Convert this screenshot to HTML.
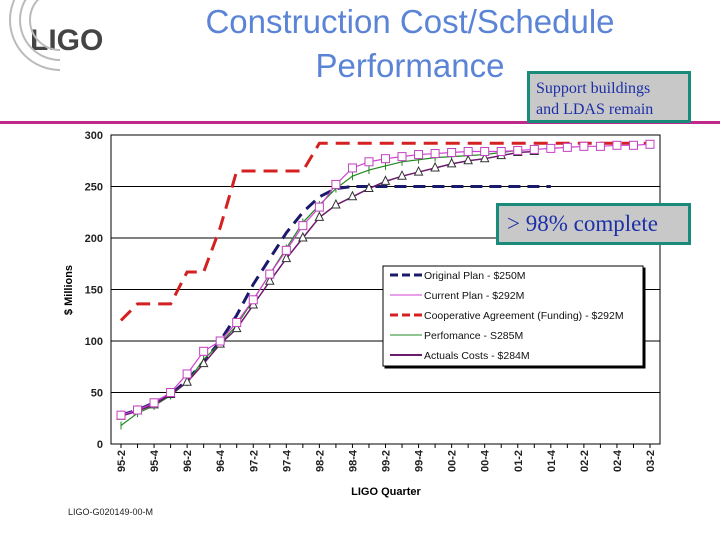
<!DOCTYPE html>
<html><head><meta charset="utf-8"><style>
body{margin:0;width:720px;height:540px;background:#fff;position:relative;overflow:hidden;font-family:"Liberation Sans",sans-serif}
.title{position:absolute;left:150px;width:520px;text-align:center;color:#5b84d6;font-size:33px;line-height:44px;top:0}
.box{position:absolute;background:#c8c8c8;border:3px solid #1a8a7a;font-family:"Liberation Serif",serif;color:#1c2fa8}
</style></head><body>
<div style="position:absolute;left:30px;top:24px;font-weight:bold;font-size:30px;color:#444">LIGO</div>
<svg style="position:absolute;left:0;top:0" width="60" height="90"><g fill="none" stroke="#bbb" stroke-width="2"><circle cx="60" cy="20" r="30"/><circle cx="60" cy="20" r="40"/><circle cx="60" cy="20" r="50"/></g></svg>
<div class="title">Construction Cost/Schedule<br>Performance</div>
<div style="position:absolute;left:0;top:121px;width:720px;height:3px;background:#c0288a"></div>
<div class="box" style="left:527px;top:71px;width:164px;height:52px;font-size:16px;line-height:21px;padding:4px 0 0 6px;box-sizing:border-box">Support buildings<br>and LDAS remain</div>
<svg id="c" width="720" height="540" style="position:absolute;left:0;top:0"></svg>
<div class="box" style="left:496px;top:203px;width:195px;height:42px;font-size:23px;line-height:36px;padding-left:8px;box-sizing:border-box">&gt; 98% complete</div>
<div style="position:absolute;left:68px;top:507px;font-size:9px;color:#222">LIGO-G020149-00-M</div>
<script>
const quarters=["95-2","95-3","95-4","96-1","96-2","96-3","96-4","97-1","97-2","97-3","97-4","98-1","98-2","98-3","98-4","99-1","99-2","99-3","99-4","00-1","00-2","00-3","00-4","01-1","01-2","01-3","01-4","02-1","02-2","02-3","02-4","03-1","03-2"];
const yTicks=[0,50,100,150,200,250,300];
const original=[28,33,40,48,62,80,100,125,155,180,205,225,240,248,250,250,250,250,250,250,250,250,250,250,250,250,250];
const funding=[120,136,136,136,167,167,210,265,265,265,265,265,292,292,292,292,292,292,292,292,292,292,292,292,292,292,292,292,292,292,292,292,292];
const currentPlan=[28,33,40,50,68,90,100,118,140,165,188,212,230,252,268,274,277,279,281,282,283,284,284,284,285,286,287,288,289,289,290,290,291];
const performance=[18,30,37,47,60,82,98,115,140,165,190,215,232,248,260,266,270,274,276,278,279,280,281,283,285];
const actuals=[27,32,38,48,60,78,97,112,135,158,180,200,220,232,240,248,255,260,264,268,272,275,277,280,283,284];
const NS="http://www.w3.org/2000/svg",svg=document.getElementById('c');
const x0=111,x1=660,yTop=135,yBot=444;
const X=i=>121+i*(650-121)/32, Y=v=>yBot-(v/300)*(yBot-yTop);
function mk(t,a,p){const e=document.createElementNS(NS,t);for(const k in a)e.setAttribute(k,a[k]);(p||svg).appendChild(e);return e;}
const frame=mk('rect',{x:x0,y:yTop,width:x1-x0,height:yBot-yTop,fill:'#fff',stroke:'#000','stroke-width':1});


yTicks.forEach(v=>{
 if(v>0&&v<300){const g=mk('line',{x1:x0,x2:x1,y1:Y(v),y2:Y(v),stroke:'#000','stroke-width':1});
 
 }
 const t=mk('text',{x:x0-8,y:Y(v)+4,'text-anchor':'end','font-size':11,'font-weight':'bold',fill:'#222'});
 t.textContent=v;
 
 
});
quarters.forEach((q,i)=>{
 mk('line',{x1:X(i),x2:X(i),y1:yBot,y2:yBot+4,stroke:'#000'});
 if(i%2===0){const t=mk('text',{transform:`translate(${X(i)+4},${yBot+6}) rotate(-90)`,'text-anchor':'end','font-size':11,'font-weight':'bold',fill:'#222'});
 t.textContent=q;
 
 }
});
const yt=mk('text',{transform:'translate(72,290) rotate(-90)','text-anchor':'middle','font-size':11,'font-weight':'bold'});yt.textContent='$ Millions';


const xt=mk('text',{x:386,y:495,'text-anchor':'middle','font-size':11,'font-weight':'bold'});xt.textContent='LIGO Quarter';


function line(d,color,w,dash,name){const p=mk('polyline',{points:d.map((v,i)=>X(i)+','+Y(v)).join(' '),fill:'none',stroke:color,'stroke-width':w,'stroke-dasharray':dash||'none'});
 
 }
line(funding,'#d42020',3,'14 8','series-funding');
line(original,'#1a1a6a',3,'12 7','series-original-plan');
line(performance,'#228822',1.2,null,'series-performance');
performance.forEach((v,i)=>mk('line',{x1:X(i),x2:X(i),y1:Y(v)-4,y2:Y(v)+4,stroke:'#228822'}));
line(actuals,'#6a1a6a',1.5,null,'series-actuals');
actuals.forEach((v,i)=>{const m=mk('polygon',{points:`${X(i)},${Y(v)-5} ${X(i)-4},${Y(v)+3} ${X(i)+4},${Y(v)+3}`,fill:'#fff',stroke:'#333'});
 
 });
line(currentPlan,'#d040d0',1.2,null,'series-current-plan');
currentPlan.forEach((v,i)=>{const m=mk('rect',{x:X(i)-4,y:Y(v)-4,width:8,height:8,fill:'#fff',stroke:'#c040c0'});
 
 });
// legend
const lg=mk('rect',{x:383,y:266,width:260,height:100,fill:'#fff',stroke:'#000',style:'filter:drop-shadow(2px 2px 0 #000)'});


const items=[["Original Plan - $250M",'#1a1a6a',3,'8 4'],["Current Plan - $292M",'#d040d0',1,null],["Cooperative Agreement (Funding) - $292M",'#d42020',3,'8 4'],["Perfomance - S285M",'#228822',1,null],["Actuals Costs - $284M",'#6a1a6a',2,null]];
items.forEach((it,k)=>{const y=275+k*20;
 mk('line',{x1:390,x2:422,y1:y,y2:y,stroke:it[1],'stroke-width':it[2],'stroke-dasharray':it[3]||'none'});
 const t=mk('text',{x:424,y:y+4,'font-size':10.5,fill:'#111'});t.textContent=it[0];
 
 });
</script>
</body></html>
